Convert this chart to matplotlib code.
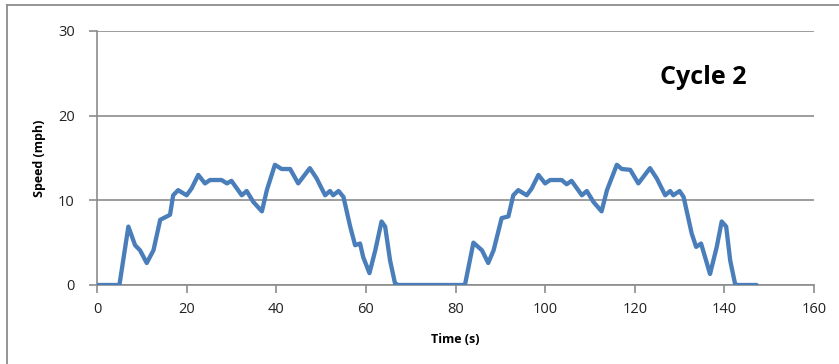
import matplotlib.pyplot as plt
from matplotlib.lines import Line2D

# speed trace
time_s = [0, 5.0, 7.0, 8.5, 9.6, 11.1, 12.6, 14.1, 15.6, 16.3, 17.0, 18.1, 20.0,
          21.1, 22.6, 24.1, 25.2, 27.8, 29.0, 30.0, 32.3, 33.4, 34.9, 36.8, 37.9,
          39.7, 41.2, 43.1, 44.9, 47.5, 49.0, 50.9, 52.0, 52.7, 53.9, 55.0, 56.5,
          57.6, 58.7, 59.4, 60.8, 62.1, 63.5, 64.3, 65.4, 66.5, 67.2,
          82.1, 84.0, 85.9, 87.3, 88.5, 90.3, 91.8, 92.9, 94.0, 95.9, 97.0, 98.5,
          100.0, 101.1, 103.7, 104.8, 105.9, 108.2, 109.3, 110.8, 112.6, 113.8,
          116.0, 117.1, 119.0, 120.8, 123.4, 124.9, 126.8, 127.9, 128.6, 130.0,
          130.9, 132.7, 133.7, 134.8, 136.8, 138.3, 139.4, 140.4, 141.3, 142.4,
          143.0, 147.2]
speed_mph = [0, 0, 6.9, 4.7, 4.1, 2.6, 4.1, 7.7, 8.1, 8.3, 10.6, 11.2, 10.6,
             11.4, 13.0, 12.0, 12.4, 12.4, 12.0, 12.3, 10.6, 11.1, 9.8, 8.7, 11.2,
             14.2, 13.7, 13.7, 12.0, 13.8, 12.6, 10.6, 11.1, 10.6, 11.1, 10.4, 6.9,
             4.7, 4.9, 3.3, 1.4, 4.1, 7.5, 6.9, 2.9, 0.2, 0,
             0, 5.0, 4.1, 2.6, 4.1, 7.9, 8.1, 10.6, 11.2, 10.6, 11.4, 13.0,
             12.0, 12.4, 12.4, 11.9, 12.3, 10.6, 11.1, 9.8, 8.7, 11.2,
             14.2, 13.7, 13.6, 12.0, 13.8, 12.6, 10.6, 11.1, 10.6, 11.1,
             10.4, 6.1, 4.5, 4.9, 1.3, 4.5, 7.5, 6.9, 2.9, 0.1,
             0, 0]

x_ticks = [0, 20, 40, 60, 80, 100, 120, 140, 160]
y_ticks = [0, 10, 20, 30]

plt.rcParams['font.family'] = ['Open Sans', 'DejaVu Sans']

fig = plt.figure(figsize=(8.39, 3.64), dpi=100)
ax = fig.add_axes([97 / 839, 79 / 364, 717 / 839, 254 / 364])

ax.plot(time_s, speed_mph, color='#4a7ebb', lw=3.1,
        solid_joinstyle='round', solid_capstyle='round', zorder=3)

ax.set_xlim(0, 160)
ax.set_ylim(0, 30)
ax.set_xticks(x_ticks)
ax.set_yticks(y_ticks)
ax.yaxis.grid(True, color='#8c8c8c', lw=1.2)
ax.set_axisbelow(True)

for s in ['top', 'right']:
    ax.spines[s].set_visible(False)
for s in ['left', 'bottom']:
    ax.spines[s].set_color('#8c8c8c')
    ax.spines[s].set_linewidth(1.2)

ax.tick_params(axis='both', colors='#8c8c8c', length=6, width=1.2,
               labelcolor='#222222', labelsize=10.5)
ax.tick_params(axis='x', pad=6)
ax.tick_params(axis='y', pad=10)

ax.set_xlabel('Time (s)', fontsize=9, fontweight='bold', labelpad=12)
ax.set_ylabel('Speed (mph)', fontsize=9, fontweight='bold', labelpad=9)

ax.text(0.845, 0.815, 'Cycle 2', transform=ax.transAxes, fontsize=18,
        fontweight='bold', ha='center', va='center', color='black')

# chart frame (left and top edges visible)
fig.add_artist(Line2D([6.5 / 839, 6.5 / 839], [0, 1 - 5 / 364],
                      transform=fig.transFigure, color='#8c8c8c', lw=1.3))
fig.add_artist(Line2D([6.5 / 839, 1], [1 - 5 / 364, 1 - 5 / 364],
                      transform=fig.transFigure, color='#8c8c8c', lw=1.3))

fig.savefig('out.png', dpi=100)
